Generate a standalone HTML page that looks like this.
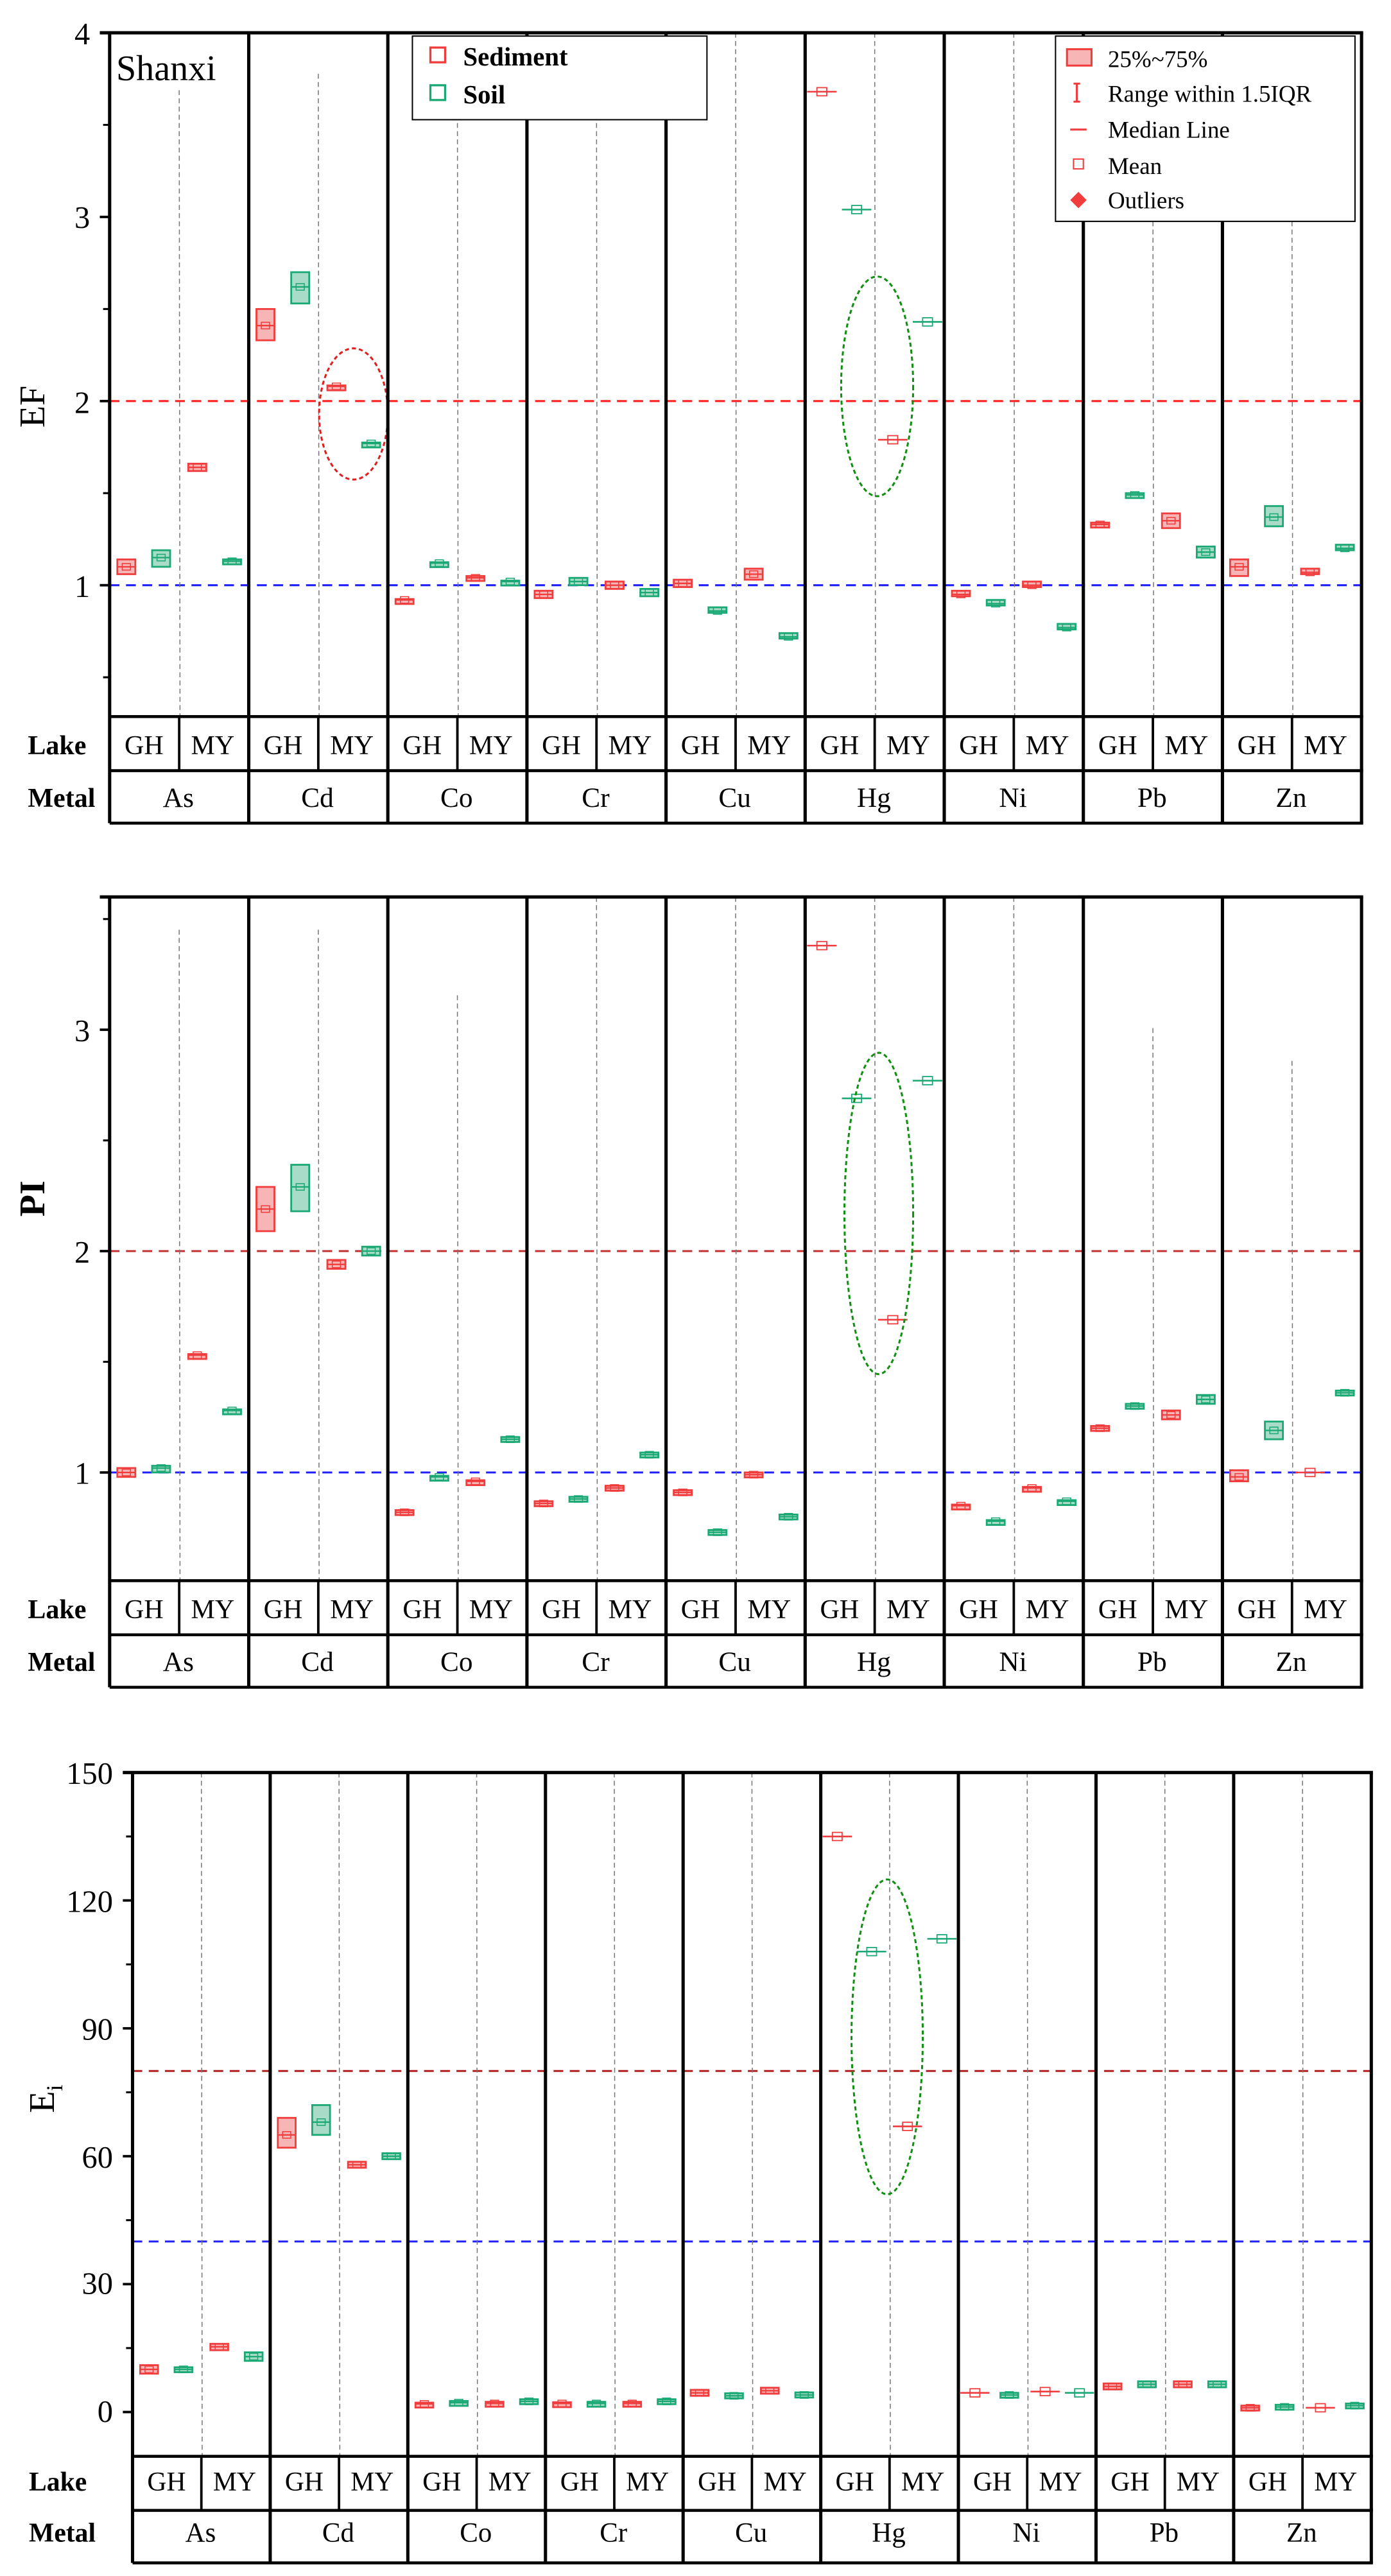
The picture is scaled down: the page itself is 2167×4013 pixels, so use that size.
<!DOCTYPE html>
<html><head><meta charset="utf-8">
<style>
html,body{margin:0;padding:0;background:#fff}
svg{display:block}
text{font-family:"Liberation Serif",serif;fill:#000}
.b{font-weight:bold}
</style></head>
<body>
<svg id="s" width="2167" height="4013" viewBox="0 0 850 1571" preserveAspectRatio="none" xmlns="http://www.w3.org/2000/svg">
<rect width="850" height="1571" fill="#fff"/>
<g id="g1" transform="translate(67,20)"></g>
<g id="g2" transform="translate(67,547)"></g>
<g id="g3" transform="translate(81,1081) scale(0.9895,1)"></g>

<!-- Panel 1 text -->
<g transform="translate(67,20)" font-size="16.5">
<text x="4" y="29" font-size="22">Shanxi</text>
<text x="-12" y="7" font-size="19" text-anchor="end">4</text>
<text x="-12" y="119" font-size="19" text-anchor="end">3</text>
<text x="-12" y="232" font-size="19" text-anchor="end">2</text>
<text x="-12" y="344" font-size="19" text-anchor="end">1</text>
<text class="b" x="-50" y="440">Lake</text>
<text class="b" x="-50" y="472">Metal</text>
<g text-anchor="middle">
<text x="21" y="440">GH</text><text x="63" y="440">MY</text>
<text x="106" y="440">GH</text><text x="148" y="440">MY</text>
<text x="191" y="440">GH</text><text x="233" y="440">MY</text>
<text x="276" y="440">GH</text><text x="318" y="440">MY</text>
<text x="361" y="440">GH</text><text x="403" y="440">MY</text>
<text x="446" y="440">GH</text><text x="488" y="440">MY</text>
<text x="531" y="440">GH</text><text x="573" y="440">MY</text>
<text x="616" y="440">GH</text><text x="658" y="440">MY</text>
<text x="701" y="440">GH</text><text x="743" y="440">MY</text>
<g font-size="17">
<text x="42" y="472">As</text><text x="127" y="472">Cd</text><text x="212" y="472">Co</text><text x="297" y="472">Cr</text><text x="382" y="472">Cu</text><text x="467" y="472">Hg</text><text x="552" y="472">Ni</text><text x="637" y="472">Pb</text><text x="722" y="472">Zn</text>
</g></g>
</g>
<text x="0" y="0" font-size="22" transform="translate(27,248) rotate(-90)" text-anchor="middle">EF</text>

<!-- Panel 2 text -->
<g transform="translate(67,547)" font-size="16.5">
<text x="-12" y="88" font-size="19" text-anchor="end">3</text>
<text x="-12" y="223" font-size="19" text-anchor="end">2</text>
<text x="-12" y="358" font-size="19" text-anchor="end">1</text>
<text class="b" x="-50" y="440">Lake</text>
<text class="b" x="-50" y="472">Metal</text>
<g text-anchor="middle">
<text x="21" y="440">GH</text><text x="63" y="440">MY</text>
<text x="106" y="440">GH</text><text x="148" y="440">MY</text>
<text x="191" y="440">GH</text><text x="233" y="440">MY</text>
<text x="276" y="440">GH</text><text x="318" y="440">MY</text>
<text x="361" y="440">GH</text><text x="403" y="440">MY</text>
<text x="446" y="440">GH</text><text x="488" y="440">MY</text>
<text x="531" y="440">GH</text><text x="573" y="440">MY</text>
<text x="616" y="440">GH</text><text x="658" y="440">MY</text>
<text x="701" y="440">GH</text><text x="743" y="440">MY</text>
<g font-size="17">
<text x="42" y="472">As</text><text x="127" y="472">Cd</text><text x="212" y="472">Co</text><text x="297" y="472">Cr</text><text x="382" y="472">Cu</text><text x="467" y="472">Hg</text><text x="552" y="472">Ni</text><text x="637" y="472">Pb</text><text x="722" y="472">Zn</text>
</g></g>
</g>
<text class="b" x="0" y="0" font-size="22" transform="translate(27,731) rotate(-90)" text-anchor="middle">PI</text>

<!-- Panel 3 text -->
<g font-size="19" text-anchor="end">
<text x="69" y="1088">150</text><text x="69" y="1166">120</text><text x="69" y="1244">90</text><text x="69" y="1322">60</text><text x="69" y="1399">30</text><text x="69" y="1477">0</text>
</g>
<text x="0" y="0" font-size="22" transform="translate(33,1280) rotate(-90)" text-anchor="middle">E<tspan font-size="14" dy="5">i</tspan></text>
<g transform="translate(81,1081) scale(0.9895,1)" font-size="16.5">
<text class="b" x="-64" y="438">Lake</text>
<text class="b" x="-64" y="469">Metal</text>
<g text-anchor="middle">
<text x="21" y="438">GH</text><text x="63" y="438">MY</text>
<text x="106" y="438">GH</text><text x="148" y="438">MY</text>
<text x="191" y="438">GH</text><text x="233" y="438">MY</text>
<text x="276" y="438">GH</text><text x="318" y="438">MY</text>
<text x="361" y="438">GH</text><text x="403" y="438">MY</text>
<text x="446" y="438">GH</text><text x="488" y="438">MY</text>
<text x="531" y="438">GH</text><text x="573" y="438">MY</text>
<text x="616" y="438">GH</text><text x="658" y="438">MY</text>
<text x="701" y="438">GH</text><text x="743" y="438">MY</text>
<g font-size="17">
<text x="42" y="469">As</text><text x="127" y="469">Cd</text><text x="212" y="469">Co</text><text x="297" y="469">Cr</text><text x="382" y="469">Cu</text><text x="467" y="469">Hg</text><text x="552" y="469">Ni</text><text x="637" y="469">Pb</text><text x="722" y="469">Zn</text>
</g></g>
</g>

<!-- Legends -->
<rect x="252" y="22" width="180" height="51" fill="#fff" stroke="#000" stroke-width="0.8"/>
<rect x="263" y="29" width="9" height="9" fill="none" stroke="#f03c3c" stroke-width="1.3"/>
<text class="b" x="283" y="40" font-size="16">Sediment</text>
<rect x="263" y="52" width="9" height="9" fill="none" stroke="#1aa874" stroke-width="1.3"/>
<text class="b" x="283" y="63" font-size="16">Soil</text>

<rect x="645" y="22" width="183" height="113" fill="#fff" stroke="#000" stroke-width="0.8"/>
<rect x="652" y="30" width="15" height="10" fill="#f7b5b5" stroke="#f03c3c" stroke-width="1.2"/>
<text x="677" y="41" font-size="14.5">25%~75%</text>
<path d="M656,51 h4 M658,51 v11 M656,62 h4" stroke="#f03c3c" stroke-width="1.2" fill="none"/>
<text x="677" y="62" font-size="14.5">Range within 1.5IQR</text>
<path d="M654,79 h10" stroke="#f03c3c" stroke-width="1.2"/>
<text x="677" y="84" font-size="14.5">Median Line</text>
<rect x="656" y="97" width="6" height="6" fill="none" stroke="#f03c3c" stroke-width="0.8"/>
<text x="677" y="106" font-size="14.5">Mean</text>
<path d="M659,117 l5,5 l-5,5 l-5,-5 z" fill="#f03c3c"/>
<text x="677" y="127" font-size="14.5">Outliers</text>

<script>
(function(){
var NS="http://www.w3.org/2000/svg";
function el(g,t,a){var e=document.createElementNS(NS,t);for(var k in a)e.setAttribute(k,a[k]);g.appendChild(e);return e;}
var RED="#f03c3c",REDF="#f7b5b5",GRN="#1aa874",GRNF="#a8dcc8";
var fr=[0.12,0.37,0.63,0.88];
function panel(id,yf,ticks,minors,refs,data,ell,vtop){
 var g=document.getElementById(id);
 refs.forEach(function(r){el(g,"line",{x1:0,x2:765,y1:yf(r[0]),y2:yf(r[0]),stroke:r[1],"stroke-width":1.2,"stroke-dasharray":"6,4"});});
 for(var c=0;c<9;c++){var x=c*85+42.5;el(g,"line",{x1:x,x2:x+0.5,y1:vtop[c],y2:417,stroke:"#777","stroke-width":0.6,"stroke-dasharray":"3,2"});}
 data.forEach(function(d,c){
  d.forEach(function(v,i){
   var cx=c*85+fr[i]*85, w=11, col=(i%2==0)?RED:GRN, fil=(i%2==0)?REDF:GRNF;
   var m=v[0], q1=v.length>1?v[1]:null, q3=v.length>2?v[2]:null;
   var ym=yf(m);
   var y1,y2;
   if(q1!==null){y1=yf(q3);y2=yf(q1);}else{y1=ym-1.8;y2=ym+1.8;}
   if(v.length==4){
     el(g,"line",{x1:cx-9,x2:cx+9,y1:ym,y2:ym,stroke:col,"stroke-width":1});
     el(g,"rect",{x:cx-3,y:ym-2.5,width:6,height:5,fill:"none",stroke:col,"stroke-width":0.7});
     return;
   }
   el(g,"rect",{x:cx-w/2,y:y1,width:w,height:Math.max(y2-y1,3),fill:fil,stroke:col,"stroke-width":1.1});
   el(g,"line",{x1:cx-w/2,x2:cx+w/2,y1:ym,y2:ym,stroke:col,"stroke-width":0.9});
   el(g,"rect",{x:cx-2.5,y:ym-2,width:5,height:4,fill:"none",stroke:col,"stroke-width":0.6});
  });
 });
 ell.forEach(function(e){el(g,"ellipse",{cx:e[0],cy:e[1],rx:e[2],ry:e[3],fill:"none",stroke:e[4],"stroke-width":1.2,"stroke-dasharray":"2.5,1.8"});});
 el(g,"line",{x1:-6,x2:766,y1:0,y2:0,stroke:"#000","stroke-width":2});
 el(g,"line",{x1:0,x2:0,y1:0,y2:482,stroke:"#000","stroke-width":2});
 for(var c=1;c<=9;c++)el(g,"line",{x1:c*85,x2:c*85,y1:0,y2:482,stroke:"#000","stroke-width":2});
 for(var c=0;c<9;c++)el(g,"line",{x1:c*85+42.5,x2:c*85+42.5,y1:417,y2:450,stroke:"#000","stroke-width":1.5});
 [417,450,482].forEach(function(y){el(g,"line",{x1:0,x2:766,y1:y,y2:y,stroke:"#000","stroke-width":1.8});});
 ticks.forEach(function(t){var y=yf(t);el(g,"line",{x1:-6,x2:0,y1:y,y2:y,stroke:"#000","stroke-width":1.5});});
 minors.forEach(function(t){var y=yf(t);el(g,"line",{x1:-4,x2:0,y1:y,y2:y,stroke:"#000","stroke-width":1.2});});
}
var y1=function(v){return (4-v)*112.3;};
panel("g1",y1,[1,2,3,4],[0.5,1.5,2.5,3.5],[[2,"#ff2020"],[1,"#2020ff"]],[
 [[1.10,1.06,1.14],[1.15,1.10,1.19],[1.64,1.62,1.66],[1.13,1.12,1.14]],
 [[2.41,2.33,2.50],[2.62,2.53,2.70],[2.08,2.075,2.085],[1.77,1.76,1.775]],
 [[0.92,0.915,0.925],[1.12,1.11,1.125],[1.04,1.03,1.05],[1.02,1.01,1.025]],
 [[0.95,0.93,0.97],[1.02,1.00,1.04],[1.00,0.98,1.02],[0.96,0.94,0.98]],
 [[1.01,0.99,1.03],[0.86,0.85,0.88],[1.06,1.03,1.09],[0.72,0.71,0.74]],
 [[3.68,0,0,1],[3.04,0,0,1],[1.79,0,0,1],[2.43,0,0,1]],
 [[0.95,0.94,0.97],[0.90,0.89,0.92],[1.00,0.99,1.02],[0.77,0.76,0.79]],
 [[1.33,1.32,1.34],[1.49,1.48,1.50],[1.35,1.31,1.39],[1.18,1.15,1.21]],
 [[1.10,1.05,1.14],[1.37,1.32,1.43],[1.07,1.06,1.09],[1.20,1.19,1.22]]
],[[149,y1(1.93),21,40,"#e02020"],[469,y1(2.08),22,67,"#109010"]],[35,25,40,40,0,0,0,90,110]);
var y2=function(v){return 81+(3-v)*135;};
panel("g2",y2,[1,2,3],[1.5,2.5,3.5],[[2,"#c03030"],[1,"#2020ff"]],[
 [[1.00,0.98,1.02],[1.02,1.00,1.03],[1.53,1.525,1.535],[1.28,1.275,1.285]],
 [[2.19,2.09,2.29],[2.29,2.18,2.39],[1.94,1.92,1.96],[2.00,1.98,2.02]],
 [[0.82,0.81,0.83],[0.98,0.975,0.985],[0.96,0.955,0.965],[1.15,1.14,1.16]],
 [[0.86,0.85,0.87],[0.88,0.87,0.89],[0.93,0.92,0.94],[1.08,1.07,1.09]],
 [[0.91,0.90,0.92],[0.73,0.72,0.74],[0.99,0.98,1.00],[0.80,0.79,0.81]],
 [[3.38,0,0,1],[2.69,0,0,1],[1.69,0,0,1],[2.77,0,0,1]],
 [[0.85,0.845,0.855],[0.78,0.775,0.785],[0.93,0.925,0.935],[0.87,0.865,0.875]],
 [[1.20,1.19,1.21],[1.30,1.29,1.31],[1.26,1.24,1.28],[1.33,1.31,1.35]],
 [[0.98,0.96,1.01],[1.19,1.15,1.23],[1.00,0,0,1],[1.36,1.35,1.37]]
],[[470,y2(2.17),21,98,"#109010"]],[20,20,60,0,0,0,0,80,100]);
var y3=function(v){return (150-v)*2.6;};
panel("g3",y3,[0,30,60,90,120,150],[15,45,75,105,135],[[80,"#b02020"],[40,"#2020ff"]],[
 [[10,9,11],[10,9.5,10.5],[15.3,14.5,16],[13,12,14]],
 [[65,62,69],[68,65,72],[58,57.3,58.7],[60,59.3,60.7]],
 [[1.9,1.6,2.2],[2.2,1.8,2.6],[2.0,1.6,2.4],[2.5,2.0,3.0]],
 [[2,1.7,2.3],[2,1.6,2.4],[2,1.6,2.4],[2.5,2.0,3.0]],
 [[4.5,3.8,5.2],[3.8,3.2,4.4],[5,4.3,5.7],[4,3.4,4.6]],
 [[135,0,0,1],[108,0,0,1],[67,0,0,1],[111,0,0,1]],
 [[4.5,0,0,1],[4,3.5,4.5],[4.8,0,0,1],[4.5,0,0,1]],
 [[6,5.3,6.7],[6.5,5.8,7.2],[6.5,5.8,7.2],[6.5,5.8,7.2]],
 [[1,0.5,1.5],[1.2,0.7,1.7],[1,0,0,1],[1.5,1.0,2.0]]
],[[466,y3(88),22,96,"#109010"]],[0,0,0,0,0,0,0,0,0]);
})();
</script>
</svg>
</body></html>
